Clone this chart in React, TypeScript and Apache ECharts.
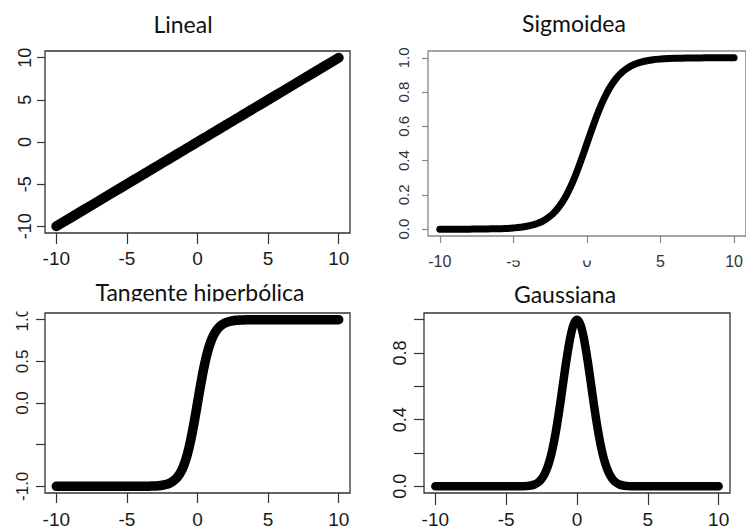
import React, { useEffect, useRef } from "react";
import * as echarts from "echarts";

// Sample inputs shared by all four activation curves (finer steps where the curves bend)
const xValues = [
  -10, -9.5, -9, -8.5, -8, -7.5, -7, -6.5, -6, -5.5, -5, -4.5, -4,
  -3.75, -3.5, -3.25, -3, -2.75, -2.5, -2.25, -2, -1.75, -1.5, -1.25, -1, -0.75, -0.5, -0.25,
  0, 0.25, 0.5, 0.75, 1, 1.25, 1.5, 1.75, 2, 2.25, 2.5, 2.75, 3, 3.25, 3.5, 3.75,
  4, 4.5, 5, 5.5, 6, 6.5, 7, 7.5, 8, 8.5, 9, 9.5, 10,
];

const linealY = [
  -10, -9.5, -9, -8.5, -8, -7.5, -7, -6.5, -6, -5.5, -5, -4.5, -4,
  -3.75, -3.5, -3.25, -3, -2.75, -2.5, -2.25, -2, -1.75, -1.5, -1.25, -1, -0.75, -0.5, -0.25,
  0, 0.25, 0.5, 0.75, 1, 1.25, 1.5, 1.75, 2, 2.25, 2.5, 2.75, 3, 3.25, 3.5, 3.75,
  4, 4.5, 5, 5.5, 6, 6.5, 7, 7.5, 8, 8.5, 9, 9.5, 10,
];

const sigmoideaY = [
  0.0, 0.0, 0.0, 0.0, 0.0, 0.001, 0.001, 0.002, 0.002, 0.004, 0.007, 0.011, 0.018,
  0.023, 0.029, 0.037, 0.047, 0.06, 0.076, 0.095, 0.119, 0.148, 0.182, 0.223, 0.269, 0.321, 0.378, 0.438,
  0.5, 0.562, 0.622, 0.679, 0.731, 0.777, 0.818, 0.852, 0.881, 0.905, 0.924, 0.94, 0.953, 0.963, 0.971, 0.977,
  0.982, 0.989, 0.993, 0.996, 0.998, 0.998, 0.999, 0.999, 1.0, 1.0, 1.0, 1.0, 1.0,
];

const tangenteY = [
  -1.0, -1.0, -1.0, -1.0, -1.0, -1.0, -1.0, -1.0, -1.0, -1.0, -1.0, -1.0, -0.999,
  -0.999, -0.998, -0.997, -0.995, -0.992, -0.987, -0.978, -0.964, -0.941, -0.905, -0.848, -0.762, -0.635, -0.462, -0.245,
  0.0, 0.245, 0.462, 0.635, 0.762, 0.848, 0.905, 0.941, 0.964, 0.978, 0.987, 0.992, 0.995, 0.997, 0.998, 0.999,
  0.999, 1.0, 1.0, 1.0, 1.0, 1.0, 1.0, 1.0, 1.0, 1.0, 1.0, 1.0, 1.0,
];

const gaussianaY = [
  0.0, 0.0, 0.0, 0.0, 0.0, 0.0, 0.0, 0.0, 0.0, 0.0, 0.0, 0.0, 0.0,
  0.001, 0.002, 0.005, 0.011, 0.023, 0.044, 0.08, 0.135, 0.216, 0.325, 0.458, 0.607, 0.755, 0.882, 0.969,
  1.0, 0.969, 0.882, 0.755, 0.607, 0.458, 0.325, 0.216, 0.135, 0.08, 0.044, 0.023, 0.011, 0.005, 0.002, 0.001,
  0.0, 0.0, 0.0, 0.0, 0.0, 0.0, 0.0, 0.0, 0.0, 0.0, 0.0, 0.0, 0.0,
];

const titles = ["Lineal", "Sigmoidea", "Tangente hiperbólica", "Gaussiana"];

// Tick positions and the subset of them that carry a label
const xTicks = [-10, -5, 0, 5, 10];
const linealTicks = [-10, -5, 0, 5, 10];
const sigmoideaTicks = [0, 0.2, 0.4, 0.6, 0.8, 1.0];
const tangenteTicks = [-1, -0.5, 0, 0.5, 1];
const tangenteLabels = [-1, 0, 0.5, 1];
const gaussianaTicks = [0, 0.2, 0.4, 0.6, 0.8, 1.0];
const gaussianaLabels = [0, 0.4, 0.8];

const LABEL_FONT = "'Liberation Sans', Arimo, Arial, sans-serif";
const TITLE_FONT = "Lato, 'Noto Sans', sans-serif";

function pairs(ys: number[]) {
  return xValues.map((x, i) => [x, ys[i]]);
}

function xAxis(
  grid: number,
  o: { tickLen: number; fontSize: number; margin: number; color: string; labelColor: string }
) {
  return {
    type: "value",
    gridIndex: grid,
    min: -10.8,
    max: 10.8,
    splitLine: { show: false },
    axisLine: { show: false, onZero: false },
    axisTick: {
      show: true,
      customValues: xTicks,
      length: o.tickLen,
      lineStyle: { color: o.color, width: 1.2 },
    },
    axisLabel: {
      customValues: xTicks,
      fontSize: o.fontSize,
      fontFamily: LABEL_FONT,
      color: o.labelColor,
      margin: o.margin,
      formatter: (v: number) => String(v),
    },
  };
}

function yAxis(
  grid: number,
  o: {
    min: number;
    max: number;
    ticks: number[];
    labels: number[];
    decimals: number;
    tickLen: number;
    fontSize: number;
    margin: number;
    color: string;
    labelColor: string;
  }
) {
  return {
    type: "value",
    gridIndex: grid,
    min: o.min,
    max: o.max,
    splitLine: { show: false },
    axisLine: { show: false, onZero: false },
    axisTick: {
      show: true,
      customValues: o.ticks,
      length: o.tickLen,
      lineStyle: { color: o.color, width: 1.2 },
    },
    axisLabel: {
      customValues: o.labels,
      rotate: 90,
      fontSize: o.fontSize,
      fontFamily: LABEL_FONT,
      color: o.labelColor,
      margin: o.margin,
      formatter: (v: number) => v.toFixed(o.decimals),
    },
  };
}

function curve(grid: number, ys: number[], width: number, smooth: number) {
  return {
    type: "line",
    xAxisIndex: grid,
    yAxisIndex: grid,
    data: pairs(ys),
    showSymbol: false,
    smooth,
    lineStyle: { color: "#000", width, cap: "round", join: "round" },
  };
}

export default function App() {
  const ref = useRef<HTMLDivElement>(null);

  useEffect(() => {
    if (!ref.current) return;
    const chart = echarts.init(ref.current, null, { renderer: "svg" });

    const option = {
      animation: false,
      backgroundColor: "#ffffff",
      grid: [
        { left: 45, top: 51, width: 305, height: 182, show: true, borderColor: "#333", borderWidth: 1.3, backgroundColor: "transparent" },
        { left: 428, top: 51, width: 322, height: 185, show: true, borderColor: "#888", borderWidth: 1.3, backgroundColor: "transparent" },
        { left: 45, top: 313, width: 305, height: 184, show: true, borderColor: "#333", borderWidth: 1.3, backgroundColor: "transparent" },
        { left: 424, top: 313, width: 306, height: 183, show: true, borderColor: "#333", borderWidth: 1.3, backgroundColor: "transparent" },
      ],
      xAxis: [
        xAxis(0, { tickLen: 11, fontSize: 19, margin: 16, color: "#333", labelColor: "#1a1a1a" }),
        xAxis(1, { tickLen: 7, fontSize: 16, margin: 17, color: "#888", labelColor: "#333" }),
        xAxis(2, { tickLen: 10, fontSize: 19, margin: 17, color: "#333", labelColor: "#1a1a1a" }),
        xAxis(3, { tickLen: 12, fontSize: 19, margin: 17, color: "#333", labelColor: "#1a1a1a" }),
      ],
      yAxis: [
        yAxis(0, { min: -10.8, max: 10.8, ticks: linealTicks, labels: linealTicks, decimals: 0, tickLen: 8, fontSize: 18, margin: 11, color: "#333", labelColor: "#1a1a1a" }),
        yAxis(1, { min: -0.04, max: 1.04, ticks: sigmoideaTicks, labels: sigmoideaTicks, decimals: 1, tickLen: 6, fontSize: 15, margin: 17, color: "#888", labelColor: "#333" }),
        yAxis(2, { min: -1.08, max: 1.08, ticks: tangenteTicks, labels: tangenteLabels, decimals: 1, tickLen: 9, fontSize: 17, margin: 14, color: "#333", labelColor: "#1a1a1a" }),
        yAxis(3, { min: -0.04, max: 1.04, ticks: gaussianaTicks, labels: gaussianaLabels, decimals: 1, tickLen: 10, fontSize: 18, margin: 15, color: "#333", labelColor: "#1a1a1a" }),
      ],
      series: [
        curve(0, linealY, 10, 0),
        curve(1, sigmoideaY, 7, 0.3),
        curve(2, tangenteY, 9.5, 0.3),
        curve(3, gaussianaY, 8.5, 0.3),
      ],
      graphic: [
        { type: "text", x: 183, y: 24, z: 10, style: { text: titles[0], font: `23px ${TITLE_FONT}`, fill: "#111", align: "center", verticalAlign: "middle" } },
        { type: "text", x: 574, y: 23, z: 10, style: { text: titles[1], font: `23px ${TITLE_FONT}`, fill: "#111", align: "center", verticalAlign: "middle" } },
        { type: "text", x: 200, y: 292, z: 10, style: { text: titles[2], font: `23px ${TITLE_FONT}`, fill: "#111", align: "center", verticalAlign: "middle" } },
        { type: "text", x: 565, y: 294, z: 10, style: { text: titles[3], font: `23px ${TITLE_FONT}`, fill: "#111", align: "center", verticalAlign: "middle" } },
        // strips where the panels were cut from their pages
        { type: "rect", z: 20, shape: { x: 0, y: 301.5, width: 362, height: 10 }, style: { fill: "#fff" } },
        { type: "rect", z: 20, shape: { x: 496, y: 248, width: 112, height: 12.5 }, style: { fill: "#fff" } },
      ],
    };

    chart.setOption(option as any);
    return () => chart.dispose();
  }, []);

  return (
    <div
      ref={ref}
      style={{ position: "fixed", left: 0, top: 0, width: 746, height: 529, background: "#fff" }}
    />
  );
}
